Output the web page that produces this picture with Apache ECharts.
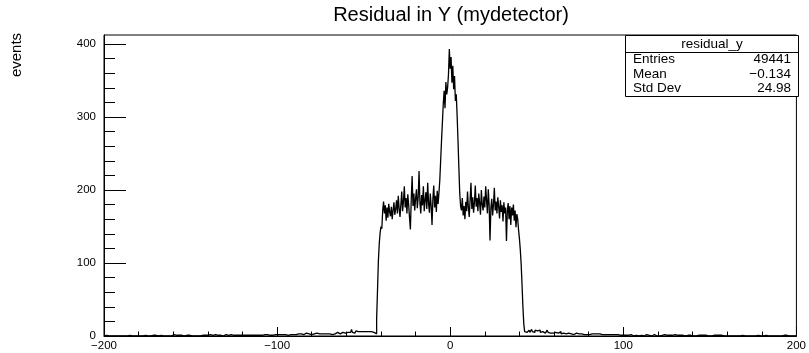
<!DOCTYPE html>
<html>
<head>
<meta charset="utf-8">
<script src="https://cdn.jsdelivr.net/npm/echarts@6/dist/echarts.min.js"></script>
<style>
  html, body { margin: 0; padding: 0; background: #fff; }
  #main { width: 809px; height: 353px; }
</style>
</head>
<body>
<div id="main"></div>
<script>
// histogram: 800 bins of 0.5 from -200 to 200
var xMin = -200;
var xMax = 200;
var binWidth = 0.5;

// bins -200 .. -43.5
var tailLeft = [
  0,0,1,0,0,0,0,0,0,0, 0,0,0,0,0,0,1,0,0,0, 0,0,0,0,0,0,0,0,0,1, 0,1,0,0,1,0,0,0,0,0, 0,0,0,0,0,0,0,1,0,0,
  0,1,0,0,0,0,1,0,1,1, 0,0,0,0,0,1,0,0,0,0, 0,0,1,0,0,0,1,0,1,0, 2,1,0,1,0,0,1,0,0,1, 0,0,0,1,0,1,0,0,1,0,
  1,0,1,1,0,2,1,0,1,1, 0,1,2,1,1,0,1,1,0,1, 1,0,2,1,1,1,0,1,2,1, 1,1,0,1,1,2,1,0,1,1, 2,1,1,1,0,1,2,1,1,1,
  1,2,1,0,1,1,2,1,1,2, 1,1,2,1,1,0,2,1,1,2, 1,2,1,1,2,1,1,2,1,1, 2,1,1,3,1,2,1,1,2,1, 2,1,2,1,1,2,1,2,2,1,
  2,1,2,2,1,3,2,2,1,2, 2,3,1,2,2,2,3,1,2,2, 3,2,2,1,3,2,2,3,2,2, 2,3,2,4,2,2,3,2,3,2,
  3,2,3,3,2,4,2,3,3,2, 3,3,2,4,3,3,2,3,4,3, 3,4,3,2,4,3,3,4,3,5, 3,4,3,4,3,5,4,3,4,5,
  4,5,4,6,5,4,9,5,6,4, 5,7,5,6,5,7,6,5,8,6, 5,7,6,5,8,6,7,5,6,8, 6,5,7,4
];

// bins -43 .. 42.5
var core = [
  3,24,62,102,126,141,150,147,172,184, 168,179,158,176,162,181,170,164,177,160,
  172,183,166,174,186,168,192,175,163,180, 198,171,185,205,176,189,168,194,180,162,
  146,187,219,178,195,172,188,201,175,190, 226,183,168,193,179,205,171,186,197,174,
  210,182,169,195,178,152,188,206,176,192, 170,199,181,196,214,241,268,293,318,336,
  312,348,331,340,358,393,366,382,347,370, 338,356,322,331,302,268,231,196,178,172,
  189,165,178,160,184,171,198,176,163,187, 210,174,190,169,183,206,177,189,171,195,
  182,166,200,180,172,191,176,205,186,168, 201,179,131,175,188,165,180,203,172,184,
  168,190,177,161,186,170,179,157,183,168, 176,130,171,182,160,178,152,176,165,180,
  158,172,149,167,160,145,133,118,98,70, 40,17
];

// bins 43 .. 199.5
var tailRight = [
  6,8,5,7,6,8,5,7,9,6, 7,5,8,6,7,5,6,8,5,7, 6,5,7,4,6,5,8,5,6,4, 5,6,4,5,
  4,5,3,5,4,3,4,6,3,4, 4,3,5,3,4,3,4,2,4,3, 3,4,2,3,3,4,2,3,3,2, 4,3,2,3,2,3,3,2,3,2,
  2,3,2,3,2,2,3,2,2,3, 2,2,3,2,1,2,3,2,2,2, 1,2,2,3,2,1,2,2,1,2, 2,1,2,2,1,2,1,2,2,1,
  1,2,1,1,2,1,1,1,2,1, 1,0,1,2,1,1,1,0,1,2, 1,1,1,0,1,1,2,1,0,1, 1,1,0,1,1,2,1,1,0,1, 1,0,1,1,1,0,1,2,1,0,
  1,1,0,1,1,0,1,1,0,2, 1,0,1,1,0,1,0,1,1,0, 1,0,1,0,1,1,0,1,0,1, 0,1,1,0,1,0,1,0,0,1, 1,0,1,0,0,1,0,1,0,1,
  0,0,1,0,1,0,0,1,0,0, 1,0,0,1,1,0,0,0,1,0, 0,1,0,0,1,0,1,0,0,0, 1,0,0,1,0,0,0,1,0,1, 0,0,0,0,1,0,0,1,0,0,
  0,1,0,0,0,1,0,0,0,1, 1,0,0,0,1,0,0,0,1,0, 0,0,1,0,0,0,0,1,0,0, 1,0,0,0,0,1,0,0,1,0, 0,0,0,1,0,0,0,0,1,0
];

var yMajorTicks = [0, 100, 200, 300, 400];
var yMinorTicks = [20, 40, 60, 80, 120, 140, 160, 180, 220, 240, 260, 280, 320, 340, 360, 380];
var yMax = 412.3;

var statsRows = [
  ['Entries', '49441'],
  ['Mean', '\u22120.134'],
  ['Std Dev', '24.98']
];

var counts = tailLeft.concat(core, tailRight);
var histData = counts.map(function (c, i) { return [xMin + i * binWidth, c]; });
histData.push([xMax, counts[counts.length - 1]]);

var FONT = 'Liberation Sans, Arial, Helvetica, sans-serif';

var myChart = echarts.init(document.getElementById('main'), null, { renderer: 'canvas' });

// stats box like ROOT
var statsGraphics = [
  { type: 'rect', shape: { x: 625.5, y: 35.5, width: 173, height: 61 },
    style: { fill: '#fff', stroke: '#000', lineWidth: 1 }, z: 100 },
  { type: 'line', shape: { x1: 625.5, y1: 52.5, x2: 798.5, y2: 52.5 },
    style: { stroke: '#000', lineWidth: 1 }, z: 101 },
  { type: 'text', x: 712, y: 44, z: 102,
    style: { text: 'residual_y', font: '13.5px ' + FONT, fill: '#000', textAlign: 'center', textVerticalAlign: 'middle' } }
];
statsRows.forEach(function (row, k) {
  var yy = 59.5 + k * 14.5;
  statsGraphics.push({ type: 'text', x: 633, y: yy, z: 102,
    style: { text: row[0], font: '13.5px ' + FONT, fill: '#000', textAlign: 'left', textVerticalAlign: 'middle' } });
  statsGraphics.push({ type: 'text', x: 791, y: yy, z: 102,
    style: { text: row[1], font: '13.5px ' + FONT, fill: '#000', textAlign: 'right', textVerticalAlign: 'middle' } });
});

var option = {
  animation: false,
  backgroundColor: '#fff',
  grid: {
    left: 104, right: 10, top: 35, bottom: 17,
    show: true, borderColor: '#000', borderWidth: 1, backgroundColor: 'transparent'
  },
  xAxis: {
    type: 'value',
    min: xMin,
    max: xMax,
    interval: 100,
    axisLine: { show: true, onZero: false, lineStyle: { color: '#000', width: 1 } },
    axisTick: { show: true, inside: true, length: 9, lineStyle: { color: '#000' } },
    minorTick: { show: true, splitNumber: 5, length: 4.5, lineStyle: { color: '#000' } },
    splitLine: { show: false },
    axisLabel: {
      color: '#000', fontSize: 11.5, fontFamily: FONT, margin: 4,
      formatter: function (v) { return v < 0 ? '\u2212' + Math.abs(v) : String(v); }
    }
  },
  yAxis: [
    {
      type: 'value',
      min: 0,
      max: yMax,
      axisLine: { show: true, onZero: false, lineStyle: { color: '#000', width: 1 } },
      axisTick: { show: true, inside: true, length: 22, customValues: yMajorTicks, lineStyle: { color: '#000' } },
      axisLabel: { color: '#000', fontSize: 11.5, fontFamily: FONT, margin: 8, customValues: yMajorTicks },
      splitLine: { show: false }
    },
    {
      // minor ticks only
      type: 'value',
      min: 0,
      max: yMax,
      position: 'left',
      axisLine: { show: false, onZero: false },
      axisTick: { show: true, inside: true, length: 11, customValues: yMinorTicks, lineStyle: { color: '#000' } },
      axisLabel: { show: false },
      splitLine: { show: false }
    }
  ],
  series: [{
    type: 'line',
    name: 'residual_y',
    yAxisIndex: 0,
    step: 'end',
    data: histData,
    showSymbol: false,
    symbol: 'none',
    silent: true,
    lineStyle: { color: '#000', width: 1.3 }
  }],
  graphic: [
    { type: 'text', x: 451, y: 15, z: 100,
      style: { text: 'Residual in Y (mydetector)', font: '20px ' + FONT, fill: '#000', textAlign: 'center', textVerticalAlign: 'middle' } },
    { type: 'text', x: 17, y: 55, rotation: Math.PI / 2, z: 100,
      style: { text: 'events', font: '15px ' + FONT, fill: '#000', textAlign: 'center', textVerticalAlign: 'middle' } }
  ].concat(statsGraphics)
};

myChart.setOption(option);
</script>
</body>
</html>
